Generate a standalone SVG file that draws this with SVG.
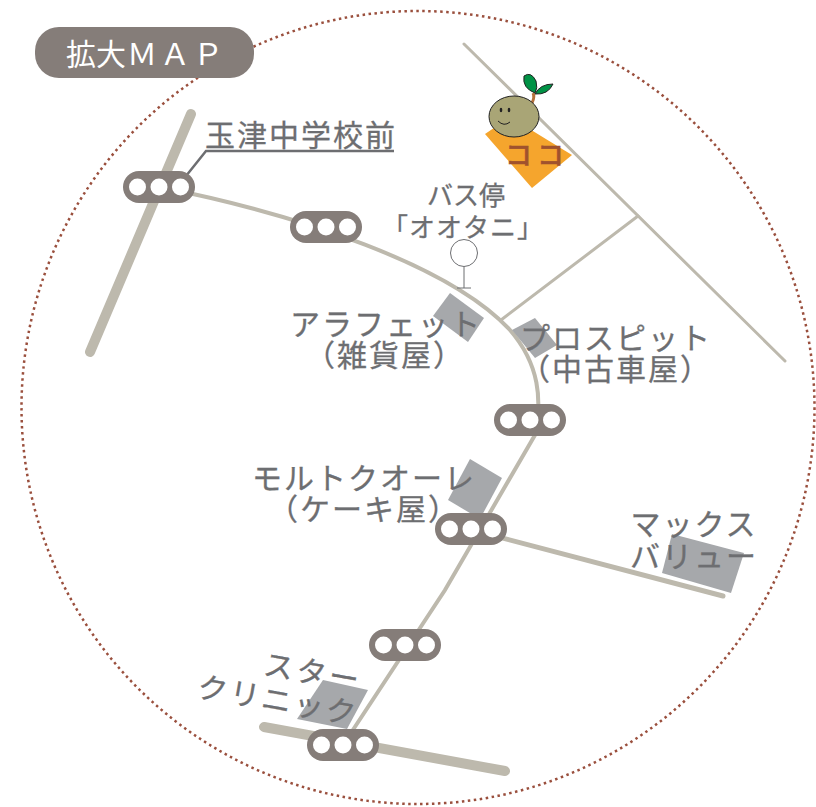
<svg xmlns="http://www.w3.org/2000/svg" width="816" height="807" viewBox="0 0 816 807">
<style>
text{font-family:"Noto Sans CJK JP","Noto Sans",sans-serif;fill:#6d6e71}
.l{font-size:30px;letter-spacing:2px;text-anchor:middle;stroke:#6d6e71;stroke-width:.3px}
.s{font-size:26px;text-anchor:middle;stroke:#6d6e71;stroke-width:.3px}
.road{fill:none;stroke:#bdb9ad;stroke-linecap:round}
.shop{fill:#a6a8ab}
.sb{fill:#857d79}
.sh{fill:#fff}
</style>
<defs>
<g id="sg"><rect class="sb" x="-36" y="-16" width="72" height="32" rx="16"/><circle class="sh" cx="-21.500" r="8.500"/><circle class="sh" r="8.500"/><circle class="sh" cx="21.500" r="8.500"/></g>
</defs>
<rect width="816" height="807" fill="#fff"/>
<circle id="outline" cx="418" cy="407.500" r="396.500" fill="none" stroke="#9a4f3d" stroke-width="2.500" stroke-dasharray="2.500 3.500"/>
<g id="connectors">
<path class="road" stroke-width="10" d="M191 114L90 352"/>
<path class="road" stroke-width="10" d="M264 727L505 771"/>
<path class="road" stroke-width="3" d="M464 44L785 361"/>
<path class="road" stroke-width="3" d="M638 216L501 320"/>
<path class="road" stroke-width="4" d="M160 187C300 215 450 265 510 330C540 365 542 400 535 435L445 590L343 745"/>
<path class="road" stroke-width="5" d="M472 530L723 596"/>
<path d="M186 176L206 151H394" fill="none" stroke="#6d6e71" stroke-width="2.500"/>
</g>
<g id="shops">
<path class="shop" d="M450 293L484 318L468 342L433 316Z"/>
<path class="shop" d="M535 318L557 345L535 358L512 330Z"/>
<path class="shop" d="M470 459L502 478L480 519L448 500Z"/>
<path class="shop" d="M672 534L744 553L731 593L662 573Z"/>
<path class="shop" d="M323 680L368 690L347 729L297 719Z"/>
</g>
<g id="title"><rect x="35" y="27" width="219" height="51" rx="24" fill="#857d79"/><text x="66 96 127 160 193" y="65" font-size="30" style="fill:#fff">拡大ＭＡＰ</text></g>
<g id="goal">
<path d="M485 134L510 117L572 155L532 188Z" fill="#f5a52d"/>
<path d="M532 103Q535 97 533 93" fill="none" stroke="#b5703a" stroke-width="3"/>
<path d="M535 93Q522 88 524 76Q531 71 536 81Q538 88 535 93Z" fill="#009245" stroke="#222" stroke-width="1"/>
<path d="M535 94Q540 84 553 84Q548 95 535 94Z" fill="#009245" stroke="#222" stroke-width="1"/>
<ellipse cx="514" cy="116.500" rx="25" ry="20.500" fill="#a9a576" stroke="#222" stroke-width="1"/>
<ellipse cx="501" cy="110" rx="1.300" ry="2.200" fill="#222"/><ellipse cx="509" cy="110" rx="1.300" ry="2.200" fill="#222"/>
<path d="M498 121Q504 127 510 122" fill="none" stroke="#222" stroke-width="1"/>
<text x="505 537" y="165" font-size="27" font-weight="500" style="fill:#a0522d;stroke:#a0522d;stroke-width:.5px">ココ</text>
</g>
<g id="busstop">
<circle cx="464" cy="253" r="13.500" fill="#fff" stroke="#6d6e71" stroke-width="1"/>
<path d="M464 267V288M457 288H471" stroke="#6d6e71" stroke-width="1" fill="none"/>
<text class="s" x="466" y="205">バス停</text>
<text class="s" x="463" y="237" letter-spacing="1">「オオタニ」</text>
</g>
<g id="labels">
<text class="l" x="301" y="146">玉津中学校前</text>
<text class="l" x="386" y="335">アラフェット</text>
<text class="l" x="385" y="366">（雑貨屋）</text>
<text class="l" x="616" y="349">プロスピット</text>
<text class="l" x="616" y="380">（中古車屋）</text>
<text class="l" x="364" y="489">モルトクオーレ</text>
<text class="l" x="364" y="520">（ケーキ屋）</text>
<text class="l" x="694" y="535">マックス</text>
<text class="l" x="694" y="567">バリュー</text>
<text class="l" transform="translate(311 683) rotate(10)" style="letter-spacing:3px">スター</text>
<text class="l" transform="translate(276 711) rotate(10)" style="letter-spacing:2.500px">クリニック</text>
</g>
<g id="sig1"><use href="#sg" x="159" y="187"/></g>
<g id="sig2"><use href="#sg" x="326" y="227"/></g>
<g id="sig3"><use href="#sg" x="530" y="420"/></g>
<g id="sig4"><use href="#sg" x="471" y="529"/></g>
<g id="sig5"><use href="#sg" x="405" y="645"/></g>
<g id="sig6"><use href="#sg" x="343" y="745"/></g>
</svg>
